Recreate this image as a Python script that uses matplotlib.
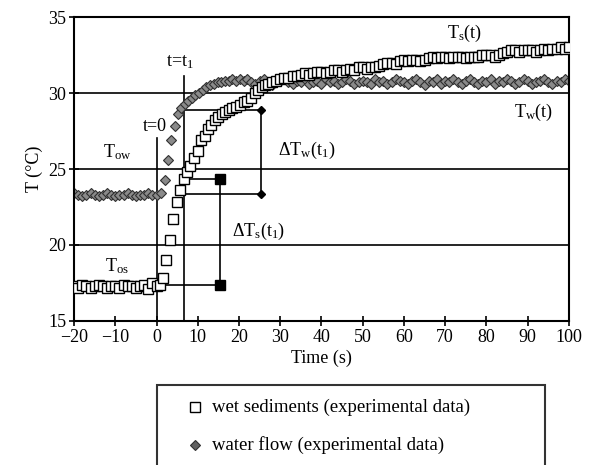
import matplotlib.pyplot as plt
from matplotlib.lines import Line2D
from matplotlib.patches import Rectangle

plt.rcParams['font.family'] = ['Liberation Serif', 'DejaVu Serif']
plt.rcParams['mathtext.fontset'] = 'custom'
plt.rcParams['mathtext.rm'] = 'Liberation Serif'
plt.rcParams['mathtext.it'] = 'Liberation Serif'

# wet sediments, T_s(t)
t_sed = [-20, -19, -18, -17, -16, -15, -14, -13, -12, -11, -10, -9, -8, -7, -6, -5, -4, -3, -2, -1, 0,
         0.8, 1.6, 2.4, 3.2, 4.1, 4.9, 5.8, 6.6, 7.4, 8.2, 9.2, 10.1, 10.9, 11.7, 12.5, 13.3, 14.1, 15.0,
         15.8, 16.6, 17.5, 18.4, 19.3, 20.2, 21.1, 22.0, 22.9, 23.8, 24.7, 25.6, 26.4,
         27, 28, 29, 30, 31, 32, 33, 34, 35, 36, 37, 38, 39, 40, 41, 42, 43, 44, 45, 46, 47, 48, 49,
         50, 51, 52, 53, 54, 55, 56, 57, 58, 59, 60, 61, 62, 63, 64, 65, 66, 67, 68, 69, 70, 71, 72,
         73, 74, 75, 76, 77, 78, 79, 80, 81, 82, 83, 84, 85, 86, 87, 88, 89, 90, 91, 92, 93, 94, 95,
         96, 97, 98, 99, 100]
T_sed = [17.3, 17.2, 17.4, 17.3, 17.2, 17.3, 17.4, 17.3, 17.2, 17.3, 17.3, 17.2, 17.4, 17.3, 17.3,
         17.2, 17.3, 17.4, 17.1, 17.5, 17.3,
         17.4, 17.8, 19.0, 20.3, 21.7, 22.8, 23.6, 24.35, 24.8, 25.2, 25.7, 26.2, 26.9, 27.2, 27.6,
         27.9, 28.2, 28.4, 28.6, 28.75, 28.9, 29.0, 29.1, 29.2, 29.4, 29.5, 29.7, 30.0, 30.2, 30.4, 30.5,
         30.6, 30.7, 30.8, 30.9, 31.0, 31.0, 31.1, 31.1, 31.2, 31.3, 31.2, 31.3, 31.4, 31.4, 31.3,
         31.4, 31.5, 31.5, 31.4, 31.5, 31.6, 31.5, 31.7, 31.7, 31.6, 31.7, 31.7, 31.8, 31.9, 32.0,
         32.0, 31.9, 32.1, 32.2, 32.1, 32.2, 32.2, 32.1, 32.2, 32.3, 32.4, 32.3, 32.4, 32.4, 32.3,
         32.4, 32.4, 32.4, 32.3, 32.4, 32.4, 32.4, 32.5, 32.5, 32.5, 32.4, 32.5, 32.6, 32.7, 32.8,
         32.8, 32.7, 32.8, 32.8, 32.8, 32.7, 32.8, 32.9, 32.8, 32.9, 32.9, 33.0, 32.9, 33.0]

# water flow, T_w(t)
t_wat = [-20, -19, -18, -17, -16, -15, -14, -13, -12, -11, -10, -9, -8, -7, -6, -5, -4, -3, -2, -1, 0,
         1.2, 2.0, 2.8, 3.6, 4.4, 5.2, 6.0, 6.8, 7.6, 8.5, 9.4, 10.3, 11.2, 12.1, 13.0, 13.9, 14.8,
         15.7, 16.6, 17.5, 18.4, 19.3, 20.2, 21.1,
         22, 23, 24, 25, 26, 27, 28, 29, 30, 31, 32, 33, 34, 35, 36, 37, 38, 39, 40, 41, 42, 43, 44,
         45, 46, 47, 48, 49, 50, 51, 52, 53, 54, 55, 56, 57, 58, 59, 60, 61, 62, 63, 64, 65, 66, 67,
         68, 69, 70, 71, 72, 73, 74, 75, 76, 77, 78, 79, 80, 81, 82, 83, 84, 85, 86, 87, 88, 89, 90,
         91, 92, 93, 94, 95, 96, 97, 98, 99, 100]
T_wat = [23.4, 23.3, 23.2, 23.3, 23.4, 23.3, 23.2, 23.3, 23.4, 23.3, 23.2, 23.3, 23.3, 23.4, 23.3,
         23.2, 23.3, 23.3, 23.4, 23.3, 23.3,
         23.4, 24.3, 25.6, 26.9, 27.8, 28.6, 29.0, 29.3, 29.5, 29.7, 29.85, 30.0, 30.2, 30.4, 30.5,
         30.6, 30.7, 30.7, 30.8, 30.8, 30.9, 30.8, 30.9, 30.8,
         30.9, 30.7, 30.6, 30.8, 30.9, 30.7, 30.5, 30.7, 30.8, 30.9, 30.7, 30.6, 30.8, 30.7, 30.9,
         30.6, 30.7, 30.8, 30.6, 30.9, 30.7, 30.8, 30.6, 30.7, 30.9, 30.8, 30.6, 30.7, 30.8, 30.7,
         30.6, 30.9, 30.7, 30.8, 30.6, 30.7, 30.9, 30.8, 30.7, 30.6, 30.8, 30.9, 30.7, 30.5, 30.8,
         30.7, 30.9, 30.6, 30.8, 30.7, 30.9, 30.7, 30.6, 30.8, 30.9, 30.7, 30.6, 30.8, 30.7, 30.9,
         30.6, 30.8, 30.7, 30.9, 30.8, 30.6, 30.7, 30.9, 30.8, 30.6, 30.7, 30.8, 30.9, 30.7, 30.6,
         30.8, 30.7, 30.9, 30.8]

# construction lines
t0 = 0
t1 = 6.6
t_dw = 25.4
t_ds = 15.3
T_w1 = 28.9
T_w0 = 23.36
T_s1 = 24.35
T_s0 = 17.4

fig = plt.figure(figsize=(5.93, 4.65), dpi=100)
ax = fig.add_axes([0.1248, 0.3097, 0.8347, 0.6537])

for yg in [20, 25, 30]:
    ax.axhline(yg, color='black', lw=1.2, zorder=1)

# t=0 and t=t1 verticals
ax.plot([t0, t0], [15, 27.05], color='black', lw=1.2, zorder=1)
ax.plot([t1, t1], [15, 31.1], color='black', lw=1.2, zorder=1)

# delta T_w bracket
ax.plot([t1, t_dw, t_dw], [T_w1, T_w1, T_w0], color='black', lw=1.2, zorder=1)
ax.plot([t1, t_dw], [T_w0, T_w0], color='black', lw=1.2, zorder=1)
ax.plot([t_dw, t_dw], [T_w1, T_w0], 'D', color='black', ms=4, zorder=4)

# delta T_s bracket
ax.plot([t1, t_ds, t_ds], [T_s1, T_s1, T_s0], color='black', lw=1.2, zorder=1)
ax.plot([t0, t_ds], [T_s0, T_s0], color='black', lw=1.2, zorder=1)
ax.plot([t_ds, t_ds], [T_s1, T_s0], 's', color='black', ms=7, zorder=4)

ax.plot(t_wat, T_wat, 'D', ms=5.5, mfc='#8a8a8a', mec='#303030', mew=0.8, ls='none', zorder=2)
ax.plot(t_sed, T_sed, 's', ms=7.5, mfc='white', mec='black', mew=1.0, ls='none', zorder=3)

fs = 13
ax.text(5.7, 32.0, r't=t$_1$', fontsize=fs, ha='center', va='center')
ax.text(-0.4, 27.8, 't=0', fontsize=fs, ha='center', va='center')
ax.text(-13, 26.1, r'T$_{\rm ow}$', fontsize=fs, ha='left', va='center')
ax.text(-12.5, 18.6, r'T$_{\rm os}$', fontsize=fs, ha='left', va='center')
ax.text(29.4, 26.2, r'$\Delta$T$_{\rm w}$(t$_1$)', fontsize=fs, ha='left', va='center')
ax.text(18.2, 20.9, r'$\Delta$T$_{\rm s}$(t$_1$)', fontsize=fs, ha='left', va='center')
ax.text(74.6, 33.9, r'T$_{\rm s}$(t)', fontsize=fs, ha='center', va='center')
ax.text(91.3, 28.7, r'T$_{\rm w}$(t)', fontsize=fs, ha='center', va='center')

ax.set_xlim(-20, 100)
ax.set_ylim(15, 35)
ax.set_xticks(range(-20, 101, 10))
ax.set_xticklabels(['\u221220', '\u221210'] + [str(v) for v in range(0, 101, 10)])
ax.set_yticks([15, 20, 25, 30, 35])
ax.tick_params(direction='inout', length=7, width=1.2, labelsize=fs, pad=2)
for s in ax.spines.values():
    s.set_linewidth(1.5)
ax.set_xlabel('Time (s)', fontsize=fs, labelpad=3)
ax.set_ylabel('T (\u00b0C)', fontsize=fs, labelpad=4)

# legend box (runs off the bottom of the figure)
fig.add_artist(Rectangle((0.265, -0.05), 0.654, 0.222, transform=fig.transFigure,
                         fill=False, ec='#333333', lw=1.5))
fig.add_artist(Line2D([0.329], [1 - 407 / 465], transform=fig.transFigure, marker='s', ms=7,
                      mfc='white', mec='black', mew=1.0, ls='none'))
fig.add_artist(Line2D([0.329], [1 - 445 / 465], transform=fig.transFigure, marker='D', ms=5,
                      mfc='#606060', mec='#303030', mew=0.8, ls='none'))
fig.text(0.357, 1 - 407 / 465, 'wet sediments (experimental data)', fontsize=13.5, va='center')
fig.text(0.357, 1 - 445 / 465, 'water flow (experimental data)', fontsize=13.5, va='center')

fig.savefig('out.png', dpi=100)
